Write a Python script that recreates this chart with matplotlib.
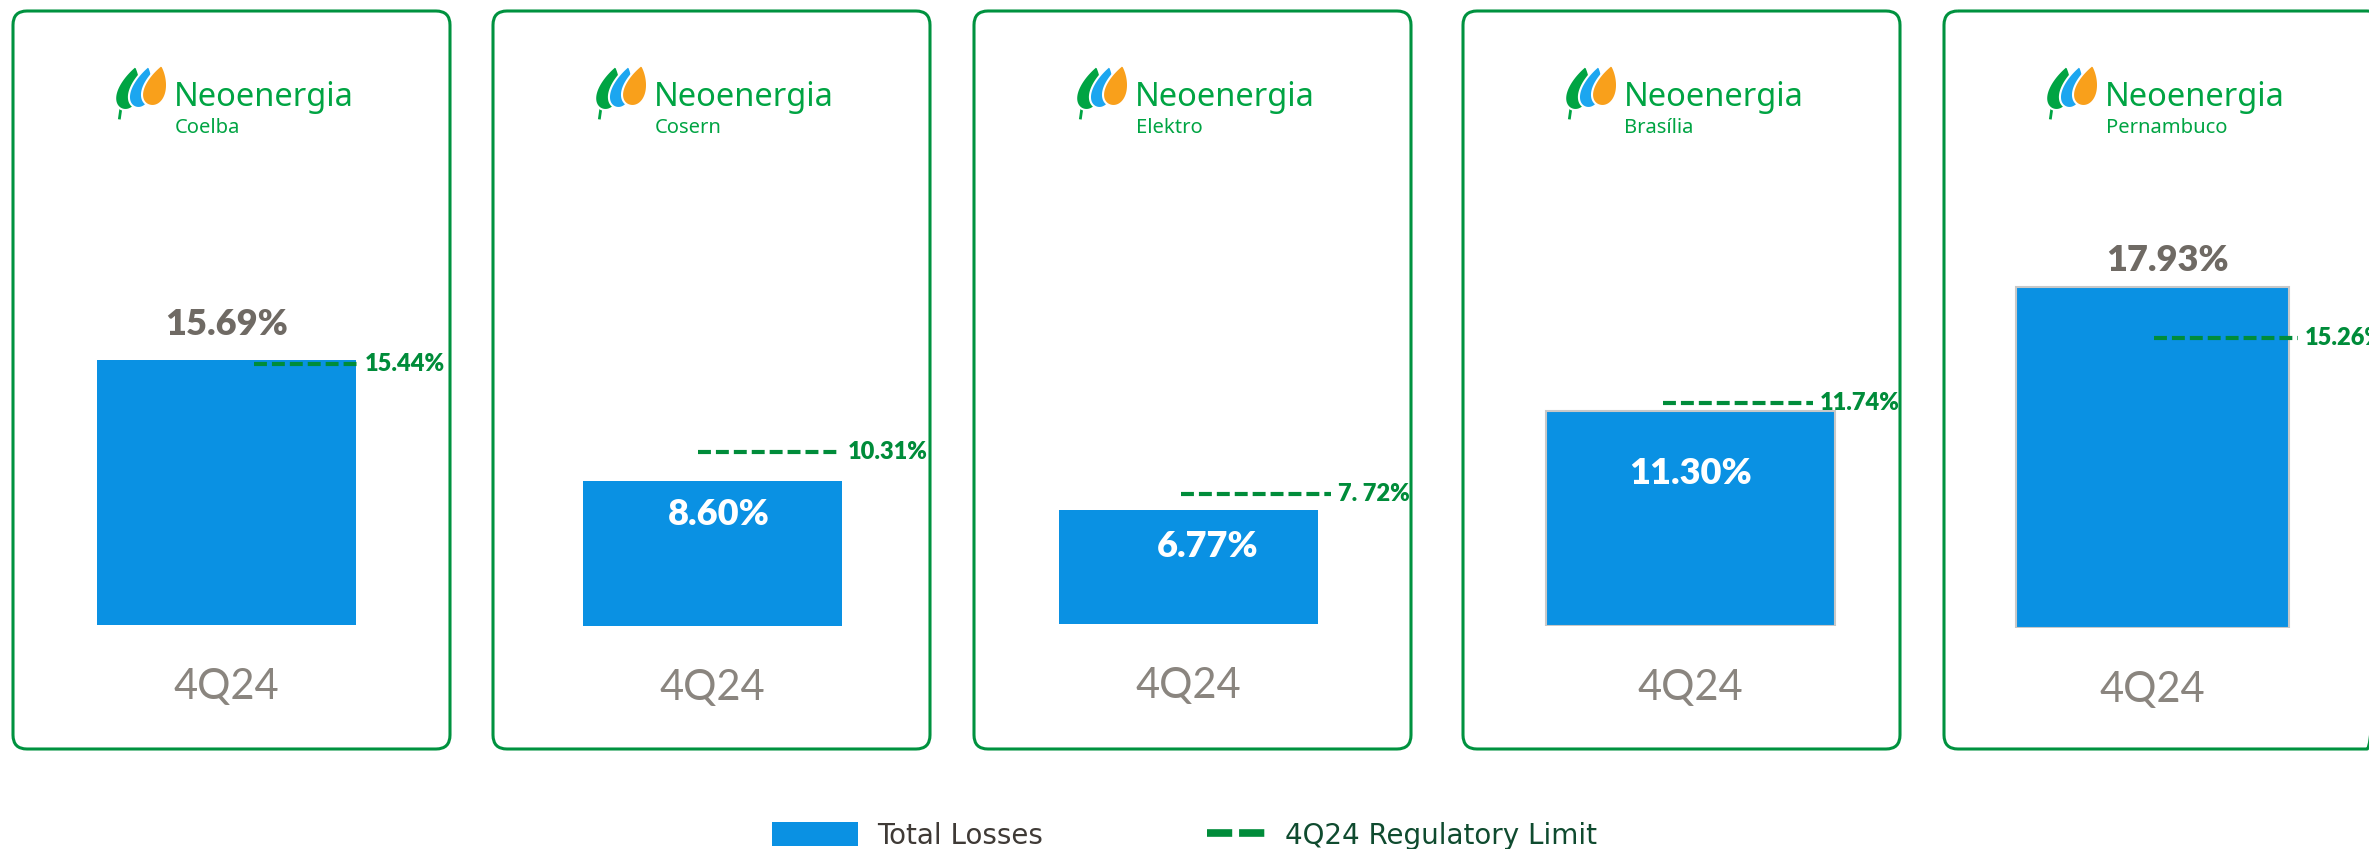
import numpy as np
import matplotlib.pyplot as plt
from matplotlib.patches import FancyBboxPatch, Polygon, Patch
from matplotlib.lines import Line2D
from matplotlib.legend_handler import HandlerLine2D

# --- data ---
companies = ["Coelba", "Cosern", "Elektro", "Brasília", "Pernambuco"]
period = "4Q24"
total_losses = [15.69, 8.60, 6.77, 11.30, 17.93]
regulatory_limit = [15.44, 10.31, 7.72, 11.74, 15.26]
limit_labels = ["15.44%", "10.31%", "7. 72%", "11.74%", "15.26%"]

# --- layout (pixel coords of the 2369x849 canvas) ---
W, H = 2369, 849
box_left = [13, 493, 974, 1463, 1944]
box_w, box_top, box_bottom = 437, 11, 749
bar_center = [226.5, 712.5, 1188.5, 1690.5, 2152.5]
bar_width = [259, 259, 259, 289, 273]
bar_bottom = [625, 626, 624, 626, 628]
px_per_unit = [16.9, 16.9, 16.9, 19.0, 19.0]
line_span = [(254, 358), (698, 841), (1181, 1331), (1663, 1813), (2154, 2298)]
label_above = [True, False, False, False, True]
label_dy = [35, -34, -37, -62, 27]
label_dx = [0, 6, 19, 0, 15]
bar_edge = [False, False, False, True, True]
axes_top = 140

BLUE = "#0a91e3"
GREEN_BOX = "#00923f"
GREEN_LINE = "#008c3a"
GREEN_LOGO = "#00a443"
GRAY_VAL = "#6f6a64"
GRAY_TICK = "#8a857f"

fig = plt.figure(figsize=(W / 100, H / 100), dpi=100)
bg = fig.add_axes([0, 0, 1, 1])
bg.set_xlim(0, W)
bg.set_ylim(H, 0)
bg.axis("off")


def flame(ax, xb, yb, w, h, lean, color):
    # teardrop leaning to the right, tip on top
    t = np.linspace(0, 2 * np.pi, 160)
    s = (np.cos(t) + 1) / 2
    x = xb + np.sin(t) * np.abs(np.sin(t / 2)) ** 0.8 * w / 2 + lean * s ** 1.5
    y = yb - s * h
    ax.add_patch(Polygon(np.column_stack([x, y]), closed=True, facecolor=color,
                         edgecolor="white", lw=1.5, zorder=3))


def draw_logo(ax, cx, sub):
    ax.plot([cx - 110, cx - 112], [104, 118], color=GREEN_LOGO, lw=2, zorder=2)
    flame(ax, cx - 106, 110, 30, 44, 10, GREEN_LOGO)
    flame(ax, cx - 93, 108, 28, 42, 10, "#1ca6f0")
    flame(ax, cx - 79, 106, 30, 41, 9, "#f9a01b")
    ax.text(cx - 58, 106, "Neoenergia", color=GREEN_LOGO, fontsize=23.5,
            family="Noto Sans", fontweight="medium", ha="left", va="baseline")
    ax.text(cx - 57, 133, sub, color=GREEN_LOGO, fontsize=14.5,
            family="Noto Sans", ha="left", va="baseline")


for i, name in enumerate(companies):
    L = box_left[i]
    r = 14
    bg.add_patch(FancyBboxPatch((L + r, box_top + r), box_w - 2 * r,
                                box_bottom - box_top - 2 * r,
                                boxstyle=f"round,pad={r}", facecolor="none",
                                edgecolor=GREEN_BOX, lw=2.2))
    draw_logo(bg, L + box_w / 2, name)

    # bar axes for this panel
    ax = fig.add_axes([L / W, 1 - bar_bottom[i] / H, box_w / W,
                       (bar_bottom[i] - axes_top) / H])
    ax.set_xlim(L, L + box_w)
    ax.set_ylim(0, (bar_bottom[i] - axes_top) / px_per_unit[i])
    ax.patch.set_alpha(0)
    for sp in ax.spines.values():
        sp.set_visible(False)
    ax.set_yticks([])

    v = total_losses[i]
    ax.bar(bar_center[i], v, width=bar_width[i], color=BLUE,
           edgecolor="#c8c8c8" if bar_edge[i] else BLUE,
           linewidth=1.5 if bar_edge[i] else 0)

    lim = regulatory_limit[i]
    x0, x1 = line_span[i]
    ax.plot([x0, x1], [lim, lim], color=GREEN_LINE, lw=3,
            linestyle=(0, (3.1, 1.2)), solid_capstyle="butt", clip_on=False)
    ax.annotate(limit_labels[i], xy=(x1, lim), xytext=(5, 0),
                textcoords="offset points", ha="left", va="center",
                color=GREEN_LINE, fontsize=17, fontweight="heavy",
                family="Lato", annotation_clip=False)

    ax.annotate(f"{v:.2f}%", xy=(bar_center[i], v),
                xytext=(label_dx[i] * 0.72, label_dy[i] * 0.72),
                textcoords="offset points", ha="center", va="center",
                color=GRAY_VAL if label_above[i] else "white",
                fontsize=26, fontweight="heavy", family="Lato",
                annotation_clip=False)

    ax.set_xticks([bar_center[i]])
    ax.set_xticklabels([period], color=GRAY_TICK, fontsize=30,
                       family="Lato", fontweight="normal")
    ax.tick_params(axis="x", length=0, pad=31)

handles = [Patch(facecolor=BLUE, edgecolor="none"),
           Line2D([], [], color=GREEN_LINE, lw=5.5, linestyle=(0, (3.3, 0.9)))]
leg = fig.legend(handles, ["Total Losses", "4Q24 Regulatory Limit"],
                 loc="center", bbox_to_anchor=(0.5, 1 - 836 / H), ncol=2,
                 frameon=False, handlelength=3.1, handleheight=0.95,
                 handletextpad=0.68, columnspacing=4.96, borderpad=0,
                 handler_map={Line2D: HandlerLine2D(xpad=0.97)},
                 prop={"family": "DejaVu Sans", "size": 20})
leg.get_texts()[0].set_color("#3f3a36")
leg.get_texts()[1].set_color("#0f4b2f")

fig.savefig("out.png", dpi=100)
